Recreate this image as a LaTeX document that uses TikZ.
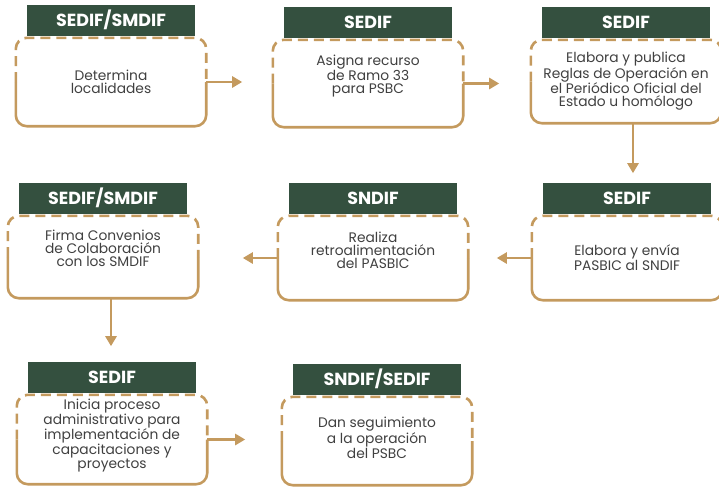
\documentclass[tikz,border=0pt]{standalone}
\usepackage{fontspec}
\setmainfont{Poppins}
\usetikzlibrary{arrows.meta,positioning}
\definecolor{verde}{HTML}{34503F}
\definecolor{ocre}{HTML}{C49A5E}
\definecolor{texto}{HTML}{404040}
\tikzset{
	paso/.style={rectangle,minimum width=190pt,inner sep=0pt},
	texto/.style={align=center,inner sep=0pt,text=texto,font=\fontsize{13.8}{13}\selectfont},
	titulo/.style={rectangle,fill=verde,text=white,minimum width=168pt,minimum height=31pt,inner sep=0pt,font=\fontsize{17.5}{18}\selectfont\bfseries},
	borde/.style={draw=ocre,line width=2.6pt,rounded corners=11pt},
	rayas/.style={borde,dash pattern=on 10pt off 6pt},
	flecha/.style={draw=ocre,line width=2.6pt,-{Triangle[length=10pt,width=11pt]}}
}

\begin{document}
\begin{tikzpicture}[x=1pt,y=-1pt]
			\useasboundingbox (0,0) rectangle (719,488);
			\node[paso,minimum height=88pt] (b1) at (111,82) {};
			\node[paso,minimum height=87pt] (b2) at (368,83.5) {};
			\node[paso,minimum height=83pt] (b3) at (626,81.5) {};
			\node[paso,minimum height=84pt] (b4) at (627,258) {};
			\node[paso,minimum height=84pt] (b5) at (373,258) {};
			\node[paso,minimum height=82pt] (b6) at (103,257) {};
			\node[paso,minimum height=89pt] (b7) at (112,439.5) {};
			\node[paso,minimum height=88pt] (b8) at (377,441) {};

			\node[texto] (e1) at (b1) {Determina\\localidades};
			\node[texto] (e2) at ([yshift=7pt]b2.center) {Asigna recurso\\de Ramo 33\\para PSBC};
			\node[texto] (e3) at (b3) {Elabora y publica\\Reglas de Operación en\\el Periódico Oficial del\\Estado u homólogo};
			\node[texto] (e4) at (b4) {Elabora y envía\\PASBIC al SNDIF};
			\node[texto] (e5) at ([yshift=8pt]b5.center) {Realiza\\retroalimentación\\del PASBIC};
			\node[texto] (e6) at ([yshift=9pt]b6.center) {Firma Convenios\\de Colaboración\\con los SMDIF};
			\node[texto] (e7) at ([yshift=4pt]b7.center) {Inicia proceso\\administrativo para\\implementación de\\capacitaciones y\\proyectos};
			\node[texto] (e8) at ([yshift=3pt]b8.center) {Dan seguimiento\\a la operación\\del PSBC};

			\node[titulo,above=2pt of b1] (t1) {SEDIF/SMDIF};
			\node[titulo,above=2pt of b2] (t2) {SEDIF};
			\node[titulo,above=2pt of b3] (t3) {SEDIF};
			\node[titulo,above=2pt of b4] (t4) {SEDIF};
			\node[titulo,above=2pt of b5] (t5) {SNDIF};
			\node[titulo,above=2pt of b6] (t6) {SEDIF/SMDIF};
			\node[titulo,above=2pt of b7] (t7) {SEDIF};
			\node[titulo,above=2pt of b8] (t8) {SNDIF/SEDIF};

			\foreach \b in {b1,b2,b3,b4,b5,b6,b7,b8} {
				\draw[rayas] (\b.west) |- (\b.north) -| (\b.east);
				\draw[borde] (\b.west) |- (\b.south) -| (\b.east);
			}

			\coordinate[right=36pt of b1.east] (f1);
			\coordinate[right=36pt of b2.east] (f2);
			\coordinate[below=50pt of b3.south] (f3);
			\coordinate[left=35pt of b4.west] (f4);
			\coordinate[left=35pt of b5.west] (f5);
			\coordinate[below=48pt of b6.south] (f6);
			\coordinate[right=38pt of b7.east] (f7);

			\draw[flecha] (b1.east) -- (f1);
			\draw[flecha] (b2.east) -- (f2);
			\draw[flecha] ([xshift=7pt]b3.south) -- ([xshift=7pt]f3);
			\draw[flecha] (b4.west) -- (f4);
			\draw[flecha] (b5.west) -- (f5);
			\draw[flecha] ([xshift=8pt]b6.south) -- ([xshift=8pt]f6);
			\draw[flecha] (b7.east) -- (f7);
		\end{tikzpicture}
\end{document}
